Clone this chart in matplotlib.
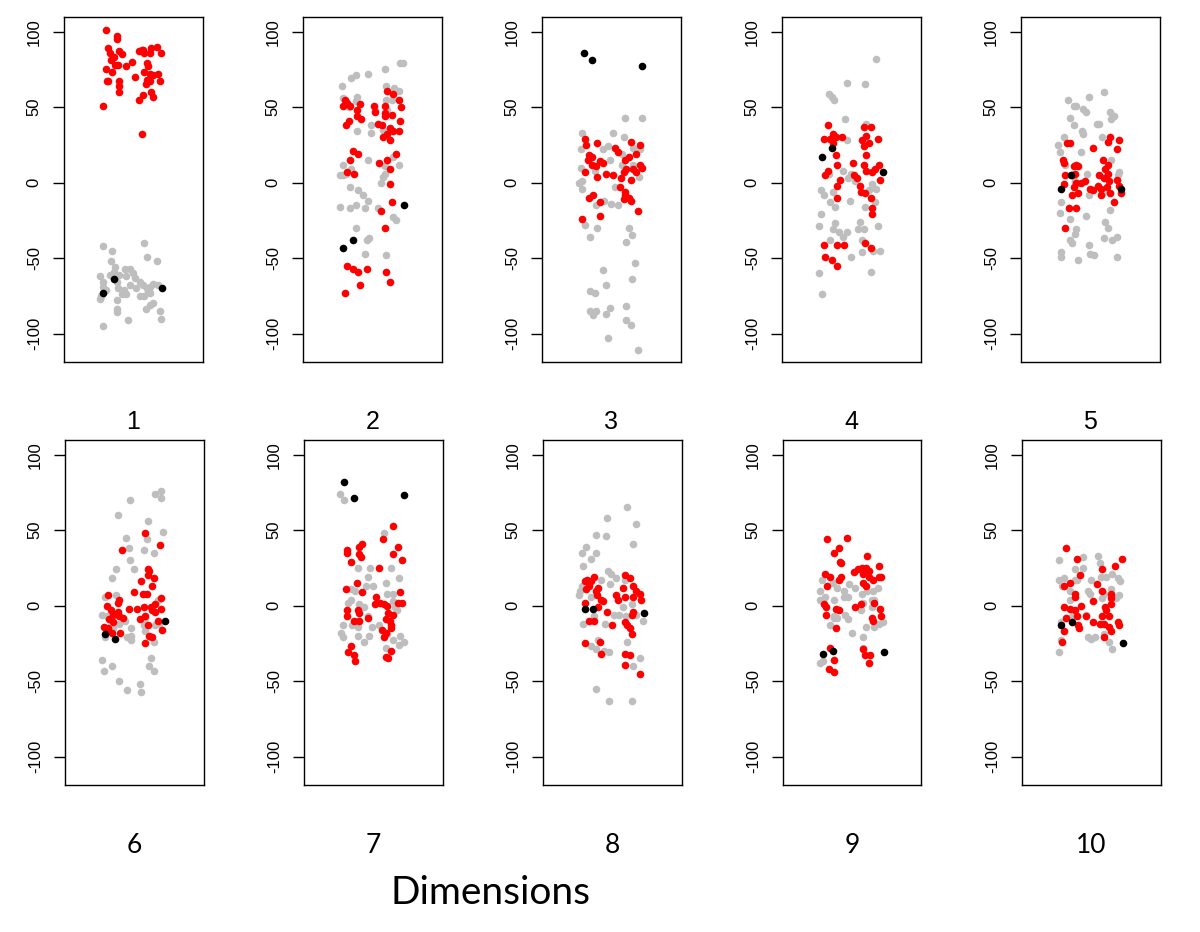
import matplotlib
matplotlib.use("Agg")
import matplotlib.pyplot as plt

plt.rcParams['axes.unicode_minus'] = False
plt.rcParams['font.family'] = ['Liberation Sans', 'DejaVu Sans']

# values: x = jitter position inside the box (0..1), y = value
p1_grey_x = [0.58, 0.28, 0.35, 0.60, 0.67, 0.34, 0.37, 0.36, 0.44, 0.48, 0.50, 0.45, 0.51, 0.33, 0.40, 0.26,
             0.28, 0.38, 0.55, 0.57, 0.60, 0.62, 0.64, 0.68, 0.39, 0.43, 0.45, 0.48, 0.28, 0.30, 0.27, 0.26,
             0.62, 0.58, 0.55, 0.38, 0.64, 0.62, 0.59, 0.38, 0.38, 0.69, 0.70, 0.46, 0.28, 0.42, 0.52, 0.61]
p1_grey_y = [-40, -42, -45, -49, -52, -52, -56, -59, -57, -57, -60, -62, -63, -61, -61, -62,
             -66, -66, -66, -68, -70, -69, -67, -68, -70, -71, -74, -68, -69, -71, -75, -77,
             -73, -75, -75, -78, -80, -81, -84, -84, -86, -85, -90, -91, -95, -74, -70, -72]
p1_red_x = [0.30, 0.38, 0.38, 0.32, 0.33, 0.36, 0.40, 0.42, 0.34, 0.37, 0.39, 0.45, 0.49, 0.30, 0.35, 0.31,
            0.32, 0.40, 0.40, 0.40, 0.51, 0.54, 0.56, 0.57, 0.58, 0.63, 0.67, 0.70, 0.62, 0.60, 0.61, 0.58,
            0.62, 0.64, 0.68, 0.69, 0.62, 0.60, 0.59, 0.63, 0.64, 0.57, 0.54, 0.28, 0.56]
p1_red_y = [101, 97, 95, 89, 86, 83, 87, 85, 81, 78, 78, 77, 80, 75, 73, 67,
            67, 67, 64, 60, 70, 87, 88, 88, 86, 89, 90, 86, 86, 79, 77, 73,
            72, 71, 72, 67, 67, 68, 65, 60, 57, 58, 55, 51, 32]
p1_black_x = [0.36, 0.28, 0.71]
p1_black_y = [-64, -73, -70]

p2_grey_x = [0.70, 0.72, 0.59, 0.47, 0.38, 0.35, 0.28, 0.60, 0.66, 0.69, 0.39, 0.29, 0.64, 0.60, 0.38, 0.49,
             0.39, 0.49, 0.58, 0.47, 0.69, 0.65, 0.29, 0.35, 0.27, 0.29, 0.31, 0.59, 0.59, 0.58, 0.56, 0.34,
             0.40, 0.43, 0.47, 0.27, 0.34, 0.38, 0.45, 0.54, 0.65, 0.67, 0.38, 0.46, 0.48, 0.45, 0.60, 0.52,
             0.61, 0.33]
p2_grey_y = [79, 79, 75, 72, 71, 69, 64, 64, 63, 61, 57, 56, 55, 55, 54, 38,
             34, 33, 35, 15, 12, 17, 12, 9, 5, 5, 6, 11, 6, 4, 0, -3,
             -5, -8, -12, -16, -17, -15, -17, -17, -23, -25, -30, -38, -37, -47, -48, 48,
             48, 50]
p2_red_x = [0.61, 0.65, 0.69, 0.71, 0.30, 0.32, 0.29, 0.34, 0.41, 0.51, 0.52, 0.59, 0.59, 0.59, 0.64, 0.39,
            0.39, 0.42, 0.33, 0.31, 0.54, 0.57, 0.63, 0.65, 0.61, 0.69, 0.58, 0.63, 0.70, 0.67, 0.36, 0.40,
            0.34, 0.37, 0.32, 0.55, 0.61, 0.63, 0.63, 0.64, 0.56, 0.59, 0.32, 0.36, 0.40, 0.46, 0.60, 0.63,
            0.41, 0.30]
p2_red_y = [61, 59, 55, 50, 55, 53, 51, 51, 52, 51, 47, 51, 46, 44, 45, 48,
            44, 42, 41, 38, 39, 38, 36, 34, 32, 34, 30, 28, 41, 19, 21, 19,
            15, 6, 7, 13, 15, 9, -1, -13, -19, -30, -55, -57, -59, -57, -59, -66,
            -68, -73]
p2_black_x = [0.73, 0.36, 0.29]
p2_black_y = [-15, -38, -43]

p3_grey_x = [0.60, 0.72, 0.29, 0.51, 0.59, 0.48, 0.44, 0.28, 0.66, 0.71, 0.49, 0.58, 0.58, 0.66, 0.28, 0.38,
             0.70, 0.27, 0.29, 0.29, 0.53, 0.45, 0.50, 0.55, 0.39, 0.31, 0.40, 0.35, 0.63, 0.65, 0.61, 0.67,
             0.44, 0.65, 0.46, 0.35, 0.38, 0.35, 0.39, 0.37, 0.46, 0.49, 0.61, 0.61, 0.64, 0.48, 0.69]
p3_grey_y = [43, 43, 33, 33, 30, 24, 22, 22, 23, 22, 15, 19, 12, 12, 10, 8,
             4, 0, 1, -4, -3, -12, -14, -15, -15, -28, -30, -36, -30, -35, -39, -53,
             -58, -64, -68, -72, -73, -85, -85, -88, -87, -83, -82, -91, -94, -103, -111]
p3_red_x = [0.31, 0.32, 0.40, 0.53, 0.55, 0.645, 0.71, 0.34, 0.36, 0.33, 0.42, 0.39, 0.36, 0.44, 0.63, 0.60,
            0.68, 0.61, 0.66, 0.71, 0.72, 0.68, 0.31, 0.40, 0.46, 0.51, 0.59, 0.645, 0.57, 0.56, 0.60, 0.60,
            0.63, 0.59, 0.645, 0.34, 0.37, 0.42, 0.69, 0.42, 0.29]
p3_red_y = [29, 25, 26, 23, 20, 27, 25, 18, 17, 15, 14, 11, 12, 13, 17, 15,
            19, 9, 9, 12, 10, 7, 7, 4, 6, 5, 7, 2, 3, -3, -6, -8,
            -10, -11, -12, -10, -8, -13, -19, -22, -24]
p3_black_x = [0.30, 0.36, 0.72]
p3_black_y = [86, 81, 77]

p4_grey_x = [0.68, 0.47, 0.60, 0.34, 0.36, 0.375, 0.455, 0.605, 0.47, 0.44, 0.50, 0.48, 0.53, 0.34, 0.28, 0.30,
             0.37, 0.38, 0.35, 0.49, 0.65, 0.68, 0.63, 0.67, 0.60, 0.28, 0.27, 0.38, 0.37, 0.41, 0.44, 0.47,
             0.55, 0.59, 0.56, 0.69, 0.71, 0.35, 0.58, 0.58, 0.50, 0.66, 0.27, 0.29, 0.64]
p4_grey_y = [82, 66, 65, 59, 57, 55, 42, 39, 28, 8, 6, 3, 1, 6, -5, -8,
             -6, -16, -13, -12, -1, -4, -5, -13, -16, -21, -29, -27, -31, -33, -36, -33,
             -31, -31, -26, -29, -45, -38, -38, -46, -49, -45, -60, -74, -59]
p4_red_x = [0.33, 0.30, 0.35, 0.37, 0.39, 0.43, 0.37, 0.39, 0.40, 0.51, 0.33, 0.31, 0.42, 0.40, 0.52, 0.54,
            0.56, 0.57, 0.60, 0.64, 0.65, 0.65, 0.40, 0.59, 0.64, 0.61, 0.58, 0.63, 0.59, 0.69, 0.61, 0.59,
            0.61, 0.65, 0.67, 0.70, 0.71, 0.30, 0.40, 0.45, 0.60, 0.64, 0.31, 0.36, 0.40]
p4_red_y = [38, 29, 29, 32, 30, 30, 26, 18, 12, 13, 8, 5, 2, -2, 5, 3,
            -2, -6, -7, -10, -17, -21, -10, 37, 37, 31, 28, 26, 24, 29, 18, 12,
            8, 7, 9, 12, 2, -41, -41, -41, -40, -43, -49, -51, -55]
p4_black_x = [0.29, 0.36, 0.73]
p4_black_y = [17, 23, 7]

p5_grey_x = [0.60, 0.49, 0.34, 0.38, 0.40, 0.45, 0.47, 0.64, 0.67, 0.65, 0.355, 0.38, 0.55, 0.565, 0.44, 0.445,
             0.585, 0.31, 0.27, 0.28, 0.435, 0.32, 0.65, 0.48, 0.705, 0.70, 0.39, 0.59, 0.49, 0.29, 0.28, 0.355,
             0.47, 0.645, 0.61, 0.63, 0.40, 0.39, 0.355, 0.37, 0.60, 0.66, 0.69, 0.49, 0.50, 0.53, 0.415, 0.29,
             0.29, 0.69]
p5_grey_y = [60, 57, 55, 51, 51, 49, 47, 47, 44, 42, 43, 38, 39, 39, 34, 32,
             30, 30, 25, 20, 20, 12, 15, 6, 7, 5, 1, -6, -8, -13, -20, -24,
             -22, -18, -26, -30, -31, -34, -38, -40, -37, -38, -36, -41, -47, -48, -51, -46,
             -49, -49]
p5_red_x = [0.33, 0.355, 0.52, 0.64, 0.63, 0.705, 0.69, 0.30, 0.31, 0.38, 0.40, 0.41, 0.39, 0.32, 0.37, 0.59,
            0.63, 0.61, 0.63, 0.565, 0.60, 0.635, 0.62, 0.58, 0.555, 0.52, 0.50, 0.46, 0.43, 0.40, 0.31, 0.38,
            0.415, 0.37, 0.58, 0.645, 0.705, 0.72, 0.675, 0.69, 0.345, 0.40, 0.32]
p5_red_y = [26, 26, 23, 30, 27, 28, 22, 15, 13, 11, 12, 11, 6, 5, 5, 15,
            12, 9, 6, 5, 3, 1, -3, -4, -2, -5, -4, 1, 0, 0, -1, -3,
            -7, -8, -8, -7, -2, -7, -13, 2, -17, -17, -30]
p5_black_x = [0.36, 0.29, 0.725]
p5_black_y = [5, -4, -4]

p6_grey_x = [0.695, 0.65, 0.695, 0.47, 0.38, 0.60, 0.71, 0.44, 0.59, 0.46, 0.57, 0.64, 0.47, 0.37, 0.50, 0.34,
             0.37, 0.67, 0.29, 0.27, 0.30, 0.435, 0.48, 0.48, 0.45, 0.48, 0.29, 0.39, 0.35, 0.58, 0.57, 0.58,
             0.65, 0.68, 0.64, 0.62, 0.27, 0.34, 0.28, 0.62, 0.61, 0.64, 0.39, 0.54, 0.45, 0.55]
p6_grey_y = [76, 74, 71, 70, 60, 56, 49, 45, 44, 38, 37, 35, 30, 24, 24, 18,
             7, 4, 6, -6, -7, -10, -15, -20, -21, -23, -21, -12, -15, -8, -13, -17,
             -13, -12, -24, -21, -36, -40, -43, -35, -40, -43, -50, -52, -56, -57]
p6_red_x = [0.58, 0.685, 0.41, 0.60, 0.61, 0.60, 0.64, 0.55, 0.63, 0.50, 0.56, 0.59, 0.31, 0.39, 0.38, 0.30,
            0.46, 0.52, 0.57, 0.62, 0.65, 0.69, 0.69, 0.63, 0.65, 0.33, 0.38, 0.35, 0.39, 0.42, 0.32, 0.35,
            0.54, 0.58, 0.67, 0.60, 0.28, 0.31, 0.34, 0.40, 0.70, 0.61, 0.63, 0.58]
p6_red_y = [48, 40, 37, 24, 23, 20, 18, 16, 13, 9, 8, 8, 7, 4, 2, 0,
            -2, -2, -1, -1, 1, 5, -2, -3, -4, -3, -4, -6, -7, -8, -9, -11,
            -9, -7, -10, -13, -14, -15, -18, -18, -16, -20, -21, -25]
p6_black_x = [0.72, 0.29, 0.36]
p6_black_y = [-10, -19, -22]

p7_grey_x = [0.26, 0.29, 0.58, 0.63, 0.48, 0.39, 0.46, 0.59, 0.685, 0.45, 0.50, 0.34, 0.37, 0.60, 0.64, 0.32,
             0.34, 0.40, 0.435, 0.645, 0.66, 0.67, 0.46, 0.40, 0.28, 0.35, 0.39, 0.49, 0.54, 0.27, 0.28, 0.39,
             0.47, 0.435, 0.60, 0.645, 0.69, 0.685, 0.72, 0.59]
p7_grey_y = [74, 70, 48, 25, 25, 25, 19, 15, 18, 13, 13, 11, 10, 8, 8, 2,
             4, 1, -1, 3, -1, -3, -7, -10, -13, -13, -14, -14, -13, -18, -21, -20,
             -20, -24, -19, -23, -20, -26, -24, -28]
p7_red_x = [0.645, 0.57, 0.42, 0.40, 0.31, 0.31, 0.40, 0.41, 0.34, 0.68, 0.645, 0.705, 0.54, 0.385, 0.30, 0.42,
            0.69, 0.52, 0.51, 0.55, 0.58, 0.60, 0.705, 0.68, 0.31, 0.39, 0.40, 0.61, 0.645, 0.31, 0.59, 0.62,
            0.46, 0.36, 0.40, 0.63, 0.63, 0.56, 0.59, 0.58, 0.34, 0.32, 0.36, 0.37, 0.63, 0.59, 0.61]
p7_red_y = [53, 44, 41, 39, 37, 35, 34, 32, 29, 39, 34, 30, 25, 15, 11, 9,
            9, 6, 1, 2, 1, 0, 2, 2, -3, -3, -5, -5, -6, -7, -9, -10,
            -8, -10, -10, -13, -15, -16, -18, -21, -27, -31, -33, -37, -30, -34, -35]
p7_black_x = [0.29, 0.36, 0.725]
p7_black_y = [82, 71, 73]

p8_grey_x = [0.61, 0.46, 0.67, 0.38, 0.455, 0.65, 0.31, 0.28, 0.38, 0.35, 0.29, 0.47, 0.49, 0.53, 0.59, 0.42,
             0.485, 0.28, 0.27, 0.26, 0.35, 0.58, 0.64, 0.51, 0.55, 0.60, 0.67, 0.37, 0.29, 0.45, 0.72, 0.605,
             0.40, 0.35, 0.38, 0.44, 0.475, 0.70, 0.65, 0.38, 0.48, 0.64]
p8_grey_y = [65, 58, 54, 47, 46, 41, 39, 35, 35, 31, 26, 23, 21, 18, 17, 17,
             14, 13, 10, 7, 6, -1, 1, -6, -6, -7, -6, -7, -12, -12, -10, -24,
             -23, -27, -29, -30, -31, -35, -40, -55, -63, -63]
p8_red_x = [0.37, 0.32, 0.35, 0.30, 0.33, 0.395, 0.38, 0.31, 0.39, 0.42, 0.43, 0.30, 0.40, 0.59, 0.63, 0.58,
            0.65, 0.67, 0.70, 0.53, 0.54, 0.595, 0.65, 0.71, 0.46, 0.65, 0.64, 0.33, 0.37, 0.50, 0.59, 0.605,
            0.625, 0.64, 0.30, 0.41, 0.42, 0.595, 0.625, 0.59, 0.70]
p8_red_y = [19, 17, 16, 16, 13, 12, 10, 11, 7, 4, 3, 2, -1, 20, 18, 12,
            13, 10, 8, 7, 4, 6, 6, 4, -4, -4, -6, -10, -10, -13, -11, -13,
            -15, -19, -25, -24, -32, -32, -33, -39, -45]
p8_black_x = [0.30, 0.36, 0.73]
p8_black_y = [-2, -2, -5]

p9_grey_x = [0.28, 0.36, 0.39, 0.44, 0.48, 0.52, 0.27, 0.30, 0.27, 0.37, 0.44, 0.47, 0.57, 0.61, 0.65, 0.685,
             0.58, 0.64, 0.66, 0.64, 0.56, 0.45, 0.365, 0.39, 0.47, 0.37, 0.34, 0.66, 0.69, 0.72, 0.60, 0.50,
             0.58, 0.58, 0.27, 0.29]
p9_grey_y = [17, 15, 12, 10, 14, 12, 10, 6, 4, 4, 6, 6, 8, 10, 10, 12,
             2, 4, 4, -1, -3, -6, -7, -8, -9, -8, -13, -14, -12, -11, -14, -18,
             -21, -28, -38, -37]
p9_red_x = [0.32, 0.46, 0.405, 0.365, 0.41, 0.42, 0.61, 0.69, 0.30, 0.34, 0.42, 0.405, 0.32, 0.51, 0.54, 0.57,
            0.60, 0.62, 0.58, 0.62, 0.65, 0.69, 0.71, 0.575, 0.60, 0.295, 0.31, 0.52, 0.56, 0.38, 0.405, 0.66,
            0.70, 0.71, 0.31, 0.64, 0.65, 0.38, 0.34, 0.37, 0.575, 0.59, 0.63, 0.62, 0.33, 0.365]
p9_red_y = [44, 45, 38, 35, 29, 28, 33, 26, 21, 19, 19, 17, 13, 22, 24, 25,
            25, 23, 21, 19, 17, 19, 19, 15, 13, 1, -1, -1, 1, -2, -3, 2,
            -2, -7, -6, -8, -10, -15, -28, -36, -29, -33, -33, -38, -42, -44]
p9_black_x = [0.29, 0.36, 0.73]
p9_black_y = [-32, -30, -31]

p10_grey_x = [0.27, 0.44, 0.55, 0.56, 0.38, 0.44, 0.605, 0.65, 0.69, 0.71, 0.27, 0.305, 0.38, 0.40, 0.50, 0.57,
              0.29, 0.35, 0.475, 0.49, 0.59, 0.575, 0.645, 0.70, 0.68, 0.35, 0.36, 0.46, 0.285, 0.475, 0.50, 0.53,
              0.59, 0.63, 0.65, 0.28, 0.27]
p10_grey_y = [30, 32, 33, 28, 24, 25, 19, 21, 18, 16, 17, 18, 17, 17, 17, 19,
              13, 10, 10, 8, 8, 5, 11, 7, 5, 4, -7, -6, -11, -21, -22, -21,
              -19, -24, -29, -23, -31]
p10_red_x = [0.32, 0.40, 0.72, 0.675, 0.58, 0.42, 0.35, 0.305, 0.54, 0.38, 0.38, 0.51, 0.58, 0.64, 0.645, 0.64,
             0.305, 0.35, 0.38, 0.425, 0.60, 0.61, 0.40, 0.46, 0.58, 0.63, 0.32, 0.515, 0.56, 0.595, 0.69, 0.70,
             0.405, 0.41, 0.625, 0.645, 0.305, 0.59, 0.29]
p10_red_y = [38, 31, 31, 26, 24, 20, 15, 13, 14, 8, 6, 3, 10, 8, 5, 1,
             -1, -2, -3, 0, -1, -3, -7, -7, -7, -7, -8, -11, -12, -12, -11, -13,
             -13, -15, -14, -17, -17, -21, -24]
p10_black_x = [0.285, 0.36, 0.73]
p10_black_y = [-13, -11, -25]

grey_x = [p1_grey_x, p2_grey_x, p3_grey_x, p4_grey_x, p5_grey_x, p6_grey_x, p7_grey_x, p8_grey_x, p9_grey_x, p10_grey_x]
grey_y = [p1_grey_y, p2_grey_y, p3_grey_y, p4_grey_y, p5_grey_y, p6_grey_y, p7_grey_y, p8_grey_y, p9_grey_y, p10_grey_y]
red_x = [p1_red_x, p2_red_x, p3_red_x, p4_red_x, p5_red_x, p6_red_x, p7_red_x, p8_red_x, p9_red_x, p10_red_x]
red_y = [p1_red_y, p2_red_y, p3_red_y, p4_red_y, p5_red_y, p6_red_y, p7_red_y, p8_red_y, p9_red_y, p10_red_y]
black_x = [p1_black_x, p2_black_x, p3_black_x, p4_black_x, p5_black_x, p6_black_x, p7_black_x, p8_black_x, p9_black_x, p10_black_x]
black_y = [p1_black_y, p2_black_y, p3_black_y, p4_black_y, p5_black_y, p6_black_y, p7_black_y, p8_black_y, p9_black_y, p10_black_y]
dim_labels = ['1', '2', '3', '4', '5', '6', '7', '8', '9', '10']
yticks = [-100, -50, 0, 50, 100]

W, H = 1200, 932
fig = plt.figure(figsize=(W / 100, H / 100), dpi=100)

lefts = [64, 303, 542, 782, 1021]
box_w, box_h = 138.5, 345
tops = [17.3, 440.3]
dot = 30

for i in range(10):
    row, col = divmod(i, 5)
    left = lefts[col] + row
    ax = fig.add_axes([left / W, 1 - (tops[row] + box_h) / H, box_w / W, box_h / H])
    ax.scatter(grey_x[i], grey_y[i], s=dot, c='#BEBEBE', linewidths=0, zorder=2)
    ax.scatter(red_x[i], red_y[i], s=dot, c='#FF0000', linewidths=0, zorder=3)
    ax.scatter(black_x[i], black_y[i], s=dot, c='black', linewidths=0, zorder=4)
    ax.set_xlim(0, 1)
    ax.set_ylim(-119, 109.5)
    ax.set_xticks([])
    ax.set_yticks(yticks)
    ax.tick_params(axis='y', length=8, width=1, pad=8, labelsize=12, direction='out')
    for lab in ax.get_yticklabels():
        lab.set_rotation(90)
        lab.set_va('center')
        lab.set_family('Liberation Sans')
    for sp in ax.spines.values():
        sp.set_linewidth(1)
    cx = (left + box_w / 2) / W
    cy = 1 - (tops[row] + box_h + 60) / H
    if row == 0:
        fig.text(cx, cy, dim_labels[i], ha='center', va='center', fontsize=18, family='Liberation Sans')
    else:
        fig.text(cx, cy, dim_labels[i], ha='center', va='center', fontsize=19, family='Lato')

fig.text(490 / W, 1 - 893 / H, 'Dimensions', ha='center', va='center', fontsize=28, family='Lato')

fig.savefig('out.png', dpi=100)
